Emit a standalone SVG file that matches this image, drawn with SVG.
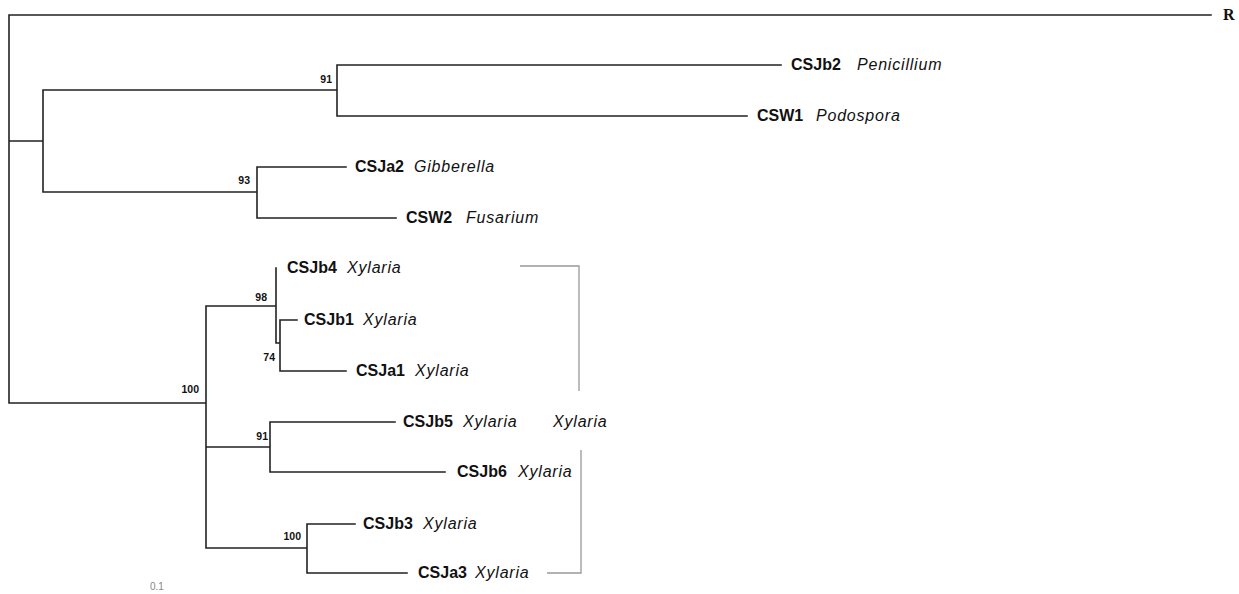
<svg xmlns="http://www.w3.org/2000/svg" width="1239" height="594" viewBox="0 0 1239 594">
<style>
.br{fill:none;stroke:#222;stroke-width:1.6;stroke-linecap:square}
.bk{fill:none;stroke:#999;stroke-width:1.3}
.id{font-family:"Liberation Sans",Arial,sans-serif;font-weight:bold;font-size:16px;fill:#111}
.sp{font-family:"Liberation Sans",Arial,sans-serif;font-style:italic;font-size:16px;letter-spacing:0.8px;fill:#111}
.bs{font-family:"Liberation Sans",Arial,sans-serif;font-weight:bold;font-size:10.5px;fill:#111;text-anchor:end}
.sc{font-family:"Liberation Sans",Arial,sans-serif;font-size:10px;fill:#888}
.rt{font-family:"Liberation Serif",serif;font-weight:bold;font-size:16px;fill:#111}
</style>
<rect width="1239" height="594" fill="#fff"/>
<g id="connectors">
<path class="br" d="M9 15 H1211 M9 15 V403 M9 141 H43 M43 90 V192 M43 90 H337 M337 65 V116 M337 65 H781 M337 116 H747 M43 192 H257 M257 167 V218 M257 167 H346 M257 218 H396 M9 403 H206 M206 306 V548 M206 306 H276 M276 268 V343 M276 343 H280 M280 320 V371 M280 320 H297 M280 371 H346 M206 447 H270 M270 422 V472 M270 422 H395 M270 472 H445 M206 548 H307 M307 524 V573 M307 524 H355 M307 573 H407"/>
<path class="bk" d="M520 266 H579 V391 M581 450 V573 H547"/>
</g>
<g id="node-R"><text class="rt" x="1223" y="20">R</text></g>
<g id="node-CSJb2"><text class="id" x="791" y="70">CSJb2</text><text class="sp" x="857" y="70">Penicillium</text></g>
<g id="node-CSW1"><text class="id" x="757" y="121">CSW1</text><text class="sp" x="816" y="121">Podospora</text></g>
<g id="node-CSJa2"><text class="id" x="355" y="172">CSJa2</text><text class="sp" x="414" y="172">Gibberella</text></g>
<g id="node-CSW2"><text class="id" x="406" y="223">CSW2</text><text class="sp" x="466" y="223">Fusarium</text></g>
<g id="node-CSJb4"><text class="id" x="287" y="273">CSJb4</text><text class="sp" x="347" y="273">Xylaria</text></g>
<g id="node-CSJb1"><text class="id" x="304" y="325">CSJb1</text><text class="sp" x="363" y="325">Xylaria</text></g>
<g id="node-CSJa1"><text class="id" x="356" y="376">CSJa1</text><text class="sp" x="415" y="376">Xylaria</text></g>
<g id="node-CSJb5"><text class="id" x="403" y="427">CSJb5</text><text class="sp" x="463" y="427">Xylaria</text></g>
<g id="node-CSJb6"><text class="id" x="457" y="477">CSJb6</text><text class="sp" x="518" y="477">Xylaria</text></g>
<g id="node-CSJb3"><text class="id" x="363" y="529">CSJb3</text><text class="sp" x="423" y="529">Xylaria</text></g>
<g id="node-CSJa3"><text class="id" x="418" y="578">CSJa3</text><text class="sp" x="475" y="578">Xylaria</text></g>
<g id="clade-Xylaria"><text class="sp" x="553" y="427">Xylaria</text></g>
<g id="node-n91a"><text class="bs" x="332" y="83">91</text></g>
<g id="node-n93"><text class="bs" x="250" y="184">93</text></g>
<g id="node-n98"><text class="bs" x="267" y="301">98</text></g>
<g id="node-n74"><text class="bs" x="275" y="361">74</text></g>
<g id="node-n100a"><text class="bs" x="199" y="393">100</text></g>
<g id="node-n91b"><text class="bs" x="268" y="440">91</text></g>
<g id="node-n100b"><text class="bs" x="301" y="540">100</text></g>
<g id="scale"><text class="sc" x="150" y="590">0.1</text></g>
</svg>
